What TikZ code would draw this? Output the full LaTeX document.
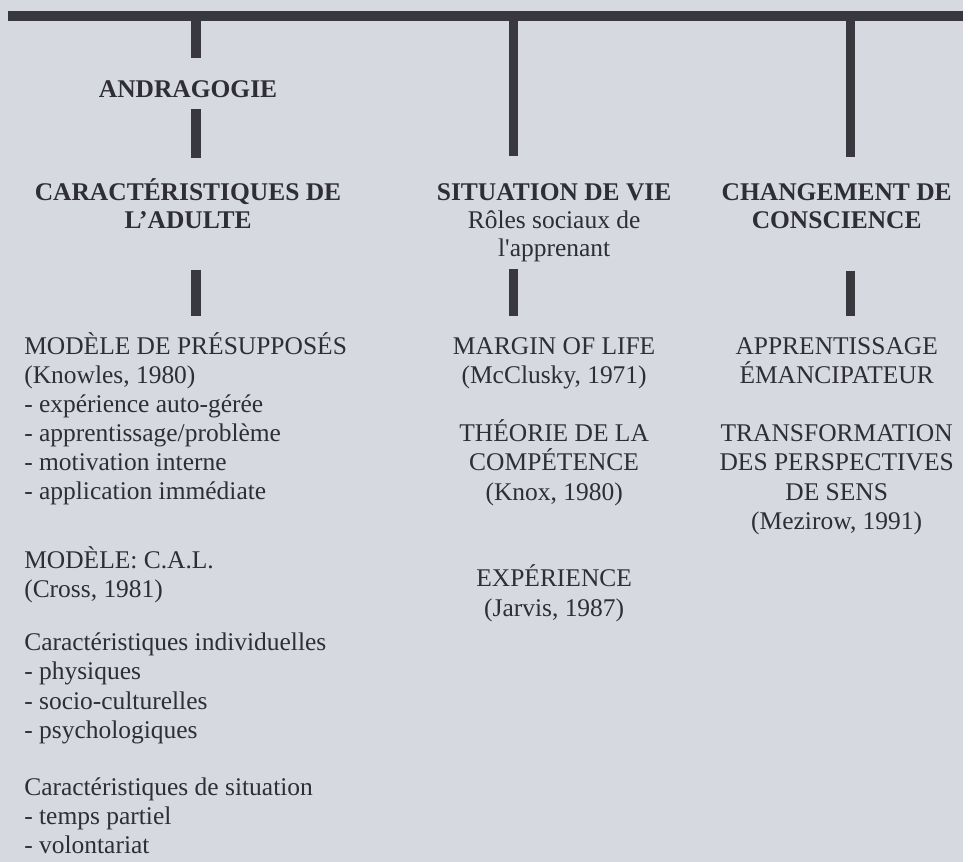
\documentclass[tikz,border=0pt]{standalone}
\usepackage{fontspec}
\setmainfont{Liberation Serif}
\usetikzlibrary{positioning}
\definecolor{paper}{RGB}{215,217,225}
\definecolor{ink}{RGB}{56,56,62}
\definecolor{type}{RGB}{46,46,52}

\begin{document}
\begin{tikzpicture}[
    x=0.5pt, y=-0.5pt,
    every node/.style={inner sep=0pt, text=type},
    bar/.style={draw=ink, line width=4.5pt},
    head/.style={font=\fontsize{12.8}{14}\selectfont\bfseries, align=center, anchor=base},
    lst/.style={font=\fontsize{12.8}{14.65}\selectfont, align=center, anchor=base}
]

% Background
\fill[paper] (0,0) rectangle (968,866);

% Top rule
\draw[bar, line width=5pt] (8,16) -- (968,16);

% Columns
\coordinate (k1) at (197,16);
\coordinate (k2) at (516,16);
\coordinate (k3) at (855,16);

% Stubs
\draw[bar, line width=5pt] (k1) -- ++(0,42);
\draw[bar, line width=5pt] (k1) ++(0,94) -- ++(0,49);
\draw[bar, line width=5pt] (k1) ++(0,255) -- ++(0,47);
\draw[bar] (k2) -- ++(0,141);
\draw[bar] (k2) ++(0,254) -- ++(0,48);
\draw[bar] (k3) -- ++(0,142);
\draw[bar] (k3) ++(0,256) -- ++(0,46);

% Headings (base = last line)
\node[head] (andra) at (189,98) {ANDRAGOGIE};
\node[head] (adulte) at (189,230) {CARACTÉRISTIQUES DE\\L’ADULTE};
\node[head] (vie) at (557,258) {SITUATION DE VIE\\{\mdseries Rôles sociaux de}\\{\mdseries l\textquotesingle apprenant}};
\node[head] (conscience) at (841,230) {CHANGEMENT DE\\CONSCIENCE};

% Left column
\node[lst, anchor=base west, align=left] (presup) at (24,502.5) {MODÈLE DE PRÉSUPPOSÉS\\(Knowles, 1980)\\- expérience auto-gérée\\- apprentissage/problème\\- motivation interne\\- application immédiate};
\node[lst, anchor=base west, align=left] (cal) at (24,601) {MODÈLE: C.A.L.\\(Cross, 1981)};
\node[lst, anchor=base west, align=left] (indiv) at (24,742) {Caractéristiques individuelles\\- physiques\\- socio-culturelles\\- psychologiques};
\node[lst, anchor=base west, align=left] (situ) at (24,858) {Caractéristiques de situation\\- temps partiel\\- volontariat};

% Middle column
\node[lst] (margin) at (557,385.3) {MARGIN OF LIFE\\(McClusky, 1971)};
\node[lst] (knox) at (557,502.6) {THÉORIE DE LA\\COMPÉTENCE\\(Knox, 1980)};
\node[lst] (jarvis) at (557,619.3) {EXPÉRIENCE\\(Jarvis, 1987)};

% Right column
\node[lst] (emancip) at (841,385.3) {APPRENTISSAGE\\ÉMANCIPATEUR};
\node[lst] (mezirow) at (841,532) {TRANSFORMATION\\DES PERSPECTIVES\\DE SENS\\(Mezirow, 1991)};

\end{tikzpicture}
\end{document}
